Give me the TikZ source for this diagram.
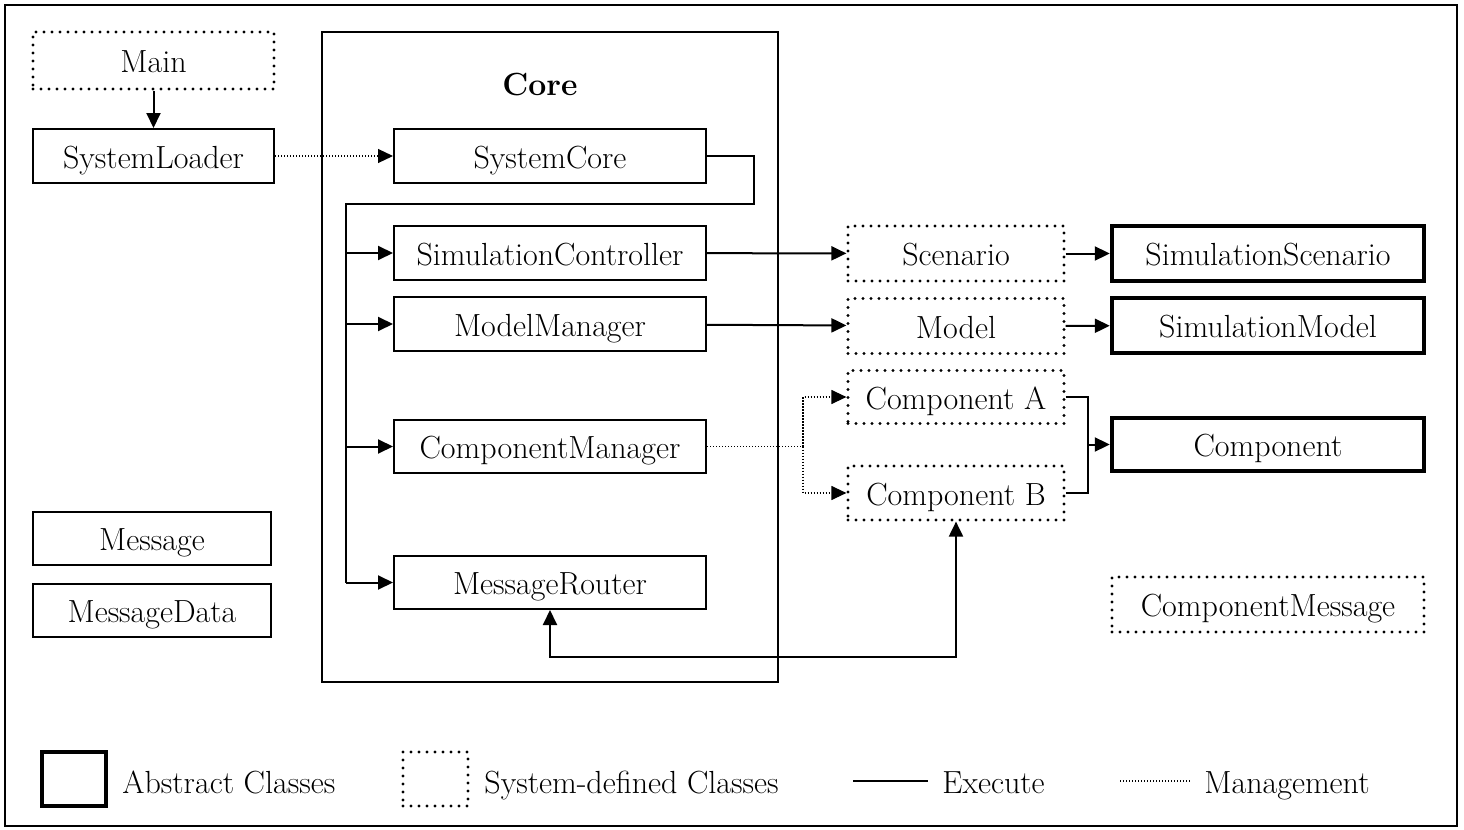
\documentclass[tikz,border=0pt]{standalone}
\usepackage{tikz}
\usetikzlibrary{arrows.meta,positioning}

\tikzset{
  cls/.style={draw,line width=1pt,inner sep=0pt,minimum width=156pt,minimum height=27pt,
    text height=13pt,text depth=1pt,font=\fontsize{16}{19}\selectfont},
  sysbox/.style={cls,line width=1.6pt,line cap=round,dash pattern=on 0pt off 4pt},
  absbox/.style={cls,line width=2.2pt},
  exec/.style={line width=1pt,-{Triangle[length=7.5pt,width=7pt]}},
  mgmt/.style={line width=0.6pt,dash pattern=on 0.6pt off 0.9pt,-{Triangle[length=7.5pt,width=7pt]}},
  legtext/.style={anchor=west,inner sep=0pt,text height=13pt,text depth=1pt,
    font=\fontsize{16}{19}\selectfont}
}

\begin{document}
\begin{tikzpicture}[x=0.5pt,y=-0.5pt]
\useasboundingbox (0,0) rectangle (1464,830);
\draw[line width=1pt] (5,5) rectangle (1457,826);

% core frame
\node[draw,line width=1pt,minimum width=228pt,minimum height=325pt] (core) at (550,357) {};
\node[font=\fontsize{16}{19}\selectfont\bfseries] (corelabel) at (540,85) {Core};

% left side
\node[sysbox,minimum width=120.5pt,minimum height=28.5pt] (main) at (153.5,60.5) {Main};
\node[cls,minimum width=120.5pt] (loader) at (153.5,156) {SystemLoader};
\node[cls,minimum width=119pt,minimum height=26.5pt] (message) at (152,538.5) {Message};
\node[cls,minimum width=119pt,minimum height=26.5pt] (msgdata) at (152,610.5) {MessageData};

% inside core
\node[cls] (syscore) at (550,156) {SystemCore};
\node[cls] (simctrl) at (550,253) {SimulationController};
\node[cls] (modelmgr) at (550,324) {ModelManager};
\node[cls,minimum height=26.5pt] (compmgr) at (550,446.5) {ComponentManager};
\node[cls,minimum height=26.5pt] (router) at (550,582.5) {MessageRouter};

% system-defined classes
\node[sysbox,minimum width=108pt,minimum height=27.5pt] (scenario) at (956,253.5) {Scenario};
\node[sysbox,minimum width=108pt,minimum height=27.5pt] (model) at (956,326) {Model};
\node[sysbox,minimum width=108pt,minimum height=26.5pt] (compa) at (956,397) {Component A};
\node[sysbox,minimum width=108pt,minimum height=27pt] (compb) at (956,493) {Component B};

% abstract classes
\node[absbox,minimum height=27.5pt] (simscenario) at (1268,253.5) {SimulationScenario};
\node[absbox,minimum height=27.5pt] (simmodel) at (1268,325.5) {SimulationModel};
\node[absbox,minimum height=26.5pt] (component) at (1268,444.5) {Component};
\node[sysbox,minimum height=27.5pt] (compmsg) at (1268,604.5) {ComponentMessage};

% connectors
\coordinate (bend) at (754,204);
\coordinate (bus) at (346,204);
\coordinate (split) at (803,446.5);
\coordinate (join) at (1088,444.5);
\coordinate (loop) at (550,657);

\draw[exec] (main) -- (loader);
\draw[mgmt] (loader) -- (syscore);
\draw[line width=1pt] (syscore.east) -| (bend) -- (bus) -- (bus |- router);
\foreach \n in {simctrl,modelmgr,compmgr,router}
  \draw[exec] (bus |- \n.west) -- (\n.west);
\draw[exec] (simctrl) -- (scenario);
\draw[exec] (modelmgr) -- (model);
\draw[exec] (scenario) -- (simscenario);
\draw[exec] (model) -- (simmodel);
\draw[mgmt,-] (compmgr.east) -- (split);
\draw[mgmt] (split) |- (compa.west);
\draw[mgmt] (split) |- (compb.west);
\draw[line width=1pt] (compa.east) -| (join) |- (compb.east);
\draw[exec] (join) -- (component.west);
\draw[exec,{Triangle[length=7.5pt,width=7pt]}-{Triangle[length=7.5pt,width=7pt]}]
  (router.south) -- (loop) -| (compb.south);

% legend
\node[absbox,minimum width=32pt,minimum height=27pt] (legabs) at (74,779) {};
\node[legtext] (legabstext) at (122,781) {Abstract Classes};
\node[sysbox,minimum width=32.5pt,minimum height=27pt] (legsys) at (435.5,779) {};
\node[legtext] (legsystext) at (484,781) {System-defined Classes};
\coordinate (legexeca) at (853,781);
\coordinate (legexecb) at (928,781);
\draw[line width=1pt] (legexeca) -- (legexecb);
\node[legtext] (legexectext) at (942,781) {Execute};
\coordinate (legmgmta) at (1120,781);
\coordinate (legmgmtb) at (1190,781);
\draw[mgmt,-] (legmgmta) -- (legmgmtb);
\node[legtext] (legmgmttext) at (1204,781) {Management};
\end{tikzpicture}
\end{document}
